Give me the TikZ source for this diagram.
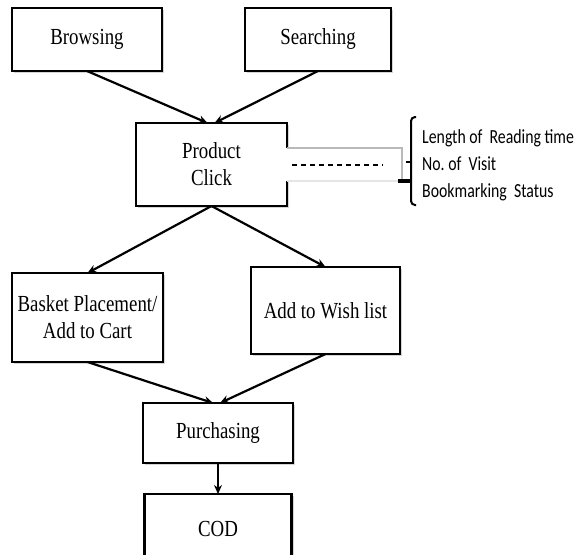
\documentclass[tikz,border=0pt]{standalone}
\usepackage{fontspec}
\setmainfont{Liberation Serif}[FakeStretch=0.82]
\newfontfamily\notefont{Carlito}[FakeStretch=0.79]
\usetikzlibrary{positioning,arrows.meta,shadows}
\tikzset{
  box/.style={draw, line width=2.6pt, fill=white, outer sep=0pt, align=center,
    font=\fontsize{23}{27}\selectfont,
    drop shadow={shadow xshift=2pt, shadow yshift=-2pt, fill=gray!55, opacity=.6}},
  flow/.style={line width=2.2pt, -{Stealth[length=9pt,width=8pt]}},
  note/.style={font=\notefont\fontsize{20}{24}\selectfont, inner sep=0pt, anchor=base west}
}

\begin{document}
\begin{tikzpicture}[x=1pt,y=-1pt]
            \useasboundingbox (0,0) rectangle (577,554);

            % entry points
            \draw node[box, minimum width=150pt, minimum height=63pt] (browse) at (87,39.5) {Browsing};
            \draw node[box, minimum width=146pt, minimum height=63pt, right = 83pt of browse] (search) {Searching};

            \draw node[box, minimum width=151pt, minimum height=83pt] (product) at (211.5,164.5) {Product\\Click};

            % cart or wish list
            \draw node[box, minimum width=151pt, minimum height=89pt] (basket) at (87.5,317.5) {Basket Placement/\\Add to Cart};
            \draw node[box, minimum width=149pt, minimum height=87pt, right = 88pt of basket, yshift=7pt] (wish) {Add to Wish list};

            \draw node[box, minimum width=150pt, minimum height=60pt] (purchase) at (218,433) {Purchasing};
            \draw node[box, minimum width=147pt, minimum height=70pt, below = 31pt of purchase] (cod) {COD};

            \draw [flow] (browse.south) -- ([xshift=-4pt]product.north);
            \draw [flow] (search.south) -- ([xshift=3pt]product.north);
            \draw [flow] (product.south) -- (basket.north);
            \draw [flow] (product.south) -- (wish.north);
            \draw [flow] (basket.south) -- ([xshift=-5pt]purchase.north);
            \draw [flow] (wish.south) -- ([xshift=2pt]purchase.north);
            \draw [flow] (purchase.south) -- (cod.north);

            % measures of a click
            \coordinate (tbx) at (402,148);
            \coordinate (tby) at (402,181);
            \coordinate (dashL) at (292,165);
            \coordinate (dashR) at (383,165);
            \fill [white] ([xshift=-2pt]product.east |- tbx) rectangle (tby);
            \draw [gray!55, line width=2.5pt] (product.east |- tbx) -- (tbx) -- (tby);
            \draw [gray!20, line width=1.5pt] (tby) -- (product.east |- tby);
            \draw [line width=1.3pt, dash pattern=on 5pt off 4pt] (dashL) -- (dashR);

            \draw [line width=2pt, rounded corners=4pt] (416,117) -| (411,205) -- (416,205);
            \draw [line width=2pt] (406,162) -- (411,162);
            \draw [line width=3.5pt] (398,181) -- (411,181);

            \node[note] (len) at (422,143) {Length of~ Reading time};
            \node[note, below = 27pt of len.base west, anchor=base west] (visit) {No.\ of~ Visit};
            \node[note, below = 27pt of visit.base west, anchor=base west] (bookmark) {Bookmarking~ Status};

        \end{tikzpicture}
\end{document}
